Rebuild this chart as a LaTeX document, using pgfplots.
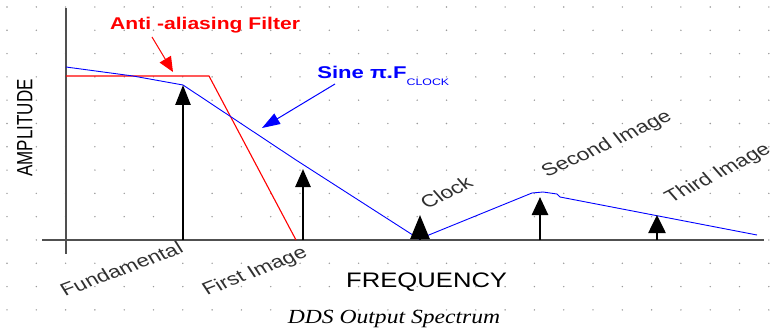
\documentclass[border=0pt]{standalone}
\usepackage{pgfplots}
\pgfplotsset{compat=1.18}
\usetikzlibrary{arrows.meta}
\usepackage{fontspec}
\setmainfont{Liberation Sans}
\newfontfamily\capfont{Liberation Serif}

\definecolor{axisgray}{HTML}{505050}
\definecolor{dotgray}{HTML}{9A9A9A}
\definecolor{labgray}{HTML}{303030}

% one data unit = one pixel of the reference; y runs downwards
\pgfplotsset{
  stem/.style={black, line width=2.6pt},
}

\begin{document}
\begin{tikzpicture}
% dotted background grid (axis sits with its south west corner at the origin)
\foreach \i in {0,...,26}{
  \foreach \j in {0,...,13}{
    \fill[dotgray] ({(7+29.3*\i)*1pt},{(325-23.3*\j)*1pt}) circle[radius=0.8pt];
  }
}
\begin{axis}[
    name=ax,
    at={(0,0)}, anchor=south west,
    x=1pt, y=1pt,
    xmin=0, xmax=772, ymin=0, ymax=332,
    y dir=reverse,
    hide axis,
    clip=false,
]
% axes
\addplot[axisgray, line width=1.3pt] coordinates {(66,8) (66,254)};
\addplot[axisgray, line width=1.3pt] coordinates {(42,240) (764,240)};

% anti-aliasing filter
\addplot[red, line width=1.1pt] coordinates {(66,76) (209,76) (296,240)};

% sin(x)/x envelope
\addplot[blue, line width=0.9pt] coordinates {
  (66,67) (133,76) (183,85) (296,160) (419,239)
  (532,193) (543,192) (557,194) (560,197) (757,235)};

% spectral lines
\addplot[stem, -{Triangle[width=15pt,length=20pt]}] coordinates {(183,240) (183,85)};
\addplot[stem, -{Triangle[width=15pt,length=18pt]}] coordinates {(303,240) (303,169)};
\addplot[stem, -{Triangle[width=19pt,length=24pt]}] coordinates {(420,240) (420,215)};
\addplot[stem, -{Triangle[width=16pt,length=18pt]}] coordinates {(540,240) (540,197)};
\addplot[stem, -{Triangle[width=17pt,length=18pt]}] coordinates {(657,240) (657,215)};

% callout arrows
\draw[red, line width=1pt, -{Triangle[width=13pt,length=15pt]}] (axis cs:152,37) -- (axis cs:173,72);
\draw[blue, line width=1pt, -{Triangle[width=12pt,length=18pt]}] (axis cs:335,84) -- (axis cs:262,128);

% texts
\node[red, anchor=base west, xscale=1.24, inner sep=0pt] at (axis cs:110,30)
  {\fontsize{17}{17}\selectfont\bfseries Anti -aliasing Filter};
\node[blue, anchor=base west, xscale=1.3, inner sep=0pt] at (axis cs:317,79)
  {\fontsize{17}{17}\selectfont\bfseries Sine π.F\raisebox{-6pt}{\fontsize{9.5}{9.5}\selectfont\mdseries CLOCK}};
\node[black, anchor=center, xscale=1.3, rotate=90, inner sep=0pt] at (axis cs:25,128)
  {\fontsize{17}{17}\selectfont AMPLITUDE};
\node[black, anchor=base west, xscale=1.22, inner sep=0pt] at (axis cs:346,287)
  {\fontsize{21}{21}\selectfont FREQUENCY};
\node[black, anchor=base, xscale=1.18, inner sep=0pt] at (axis cs:394,323)
  {\fontsize{20}{20}\capfont\itshape DDS Output Spectrum};

\node[labgray, anchor=base west, xscale=1.3, rotate=26, inner sep=0pt] at (axis cs:65,297)
  {\fontsize{17.5}{17.5}\selectfont Fundamental};
\node[labgray, anchor=base west, xscale=1.3, rotate=27, inner sep=0pt] at (axis cs:207,296)
  {\fontsize{17.5}{17.5}\selectfont First Image};
\node[labgray, anchor=base west, xscale=1.3, rotate=34, inner sep=0pt] at (axis cs:427,210)
  {\fontsize{17.5}{17.5}\selectfont Clock};
\node[labgray, anchor=base west, xscale=1.3, rotate=31, inner sep=0pt] at (axis cs:547,178)
  {\fontsize{17.5}{17.5}\selectfont Second Image};
\node[labgray, anchor=base west, xscale=1.3, rotate=34, inner sep=0pt] at (axis cs:671,204)
  {\fontsize{17.5}{17.5}\selectfont Third Image};
\end{axis}
\pgfresetboundingbox
\path (ax.south west) rectangle (ax.north east);
\end{tikzpicture}
\end{document}
